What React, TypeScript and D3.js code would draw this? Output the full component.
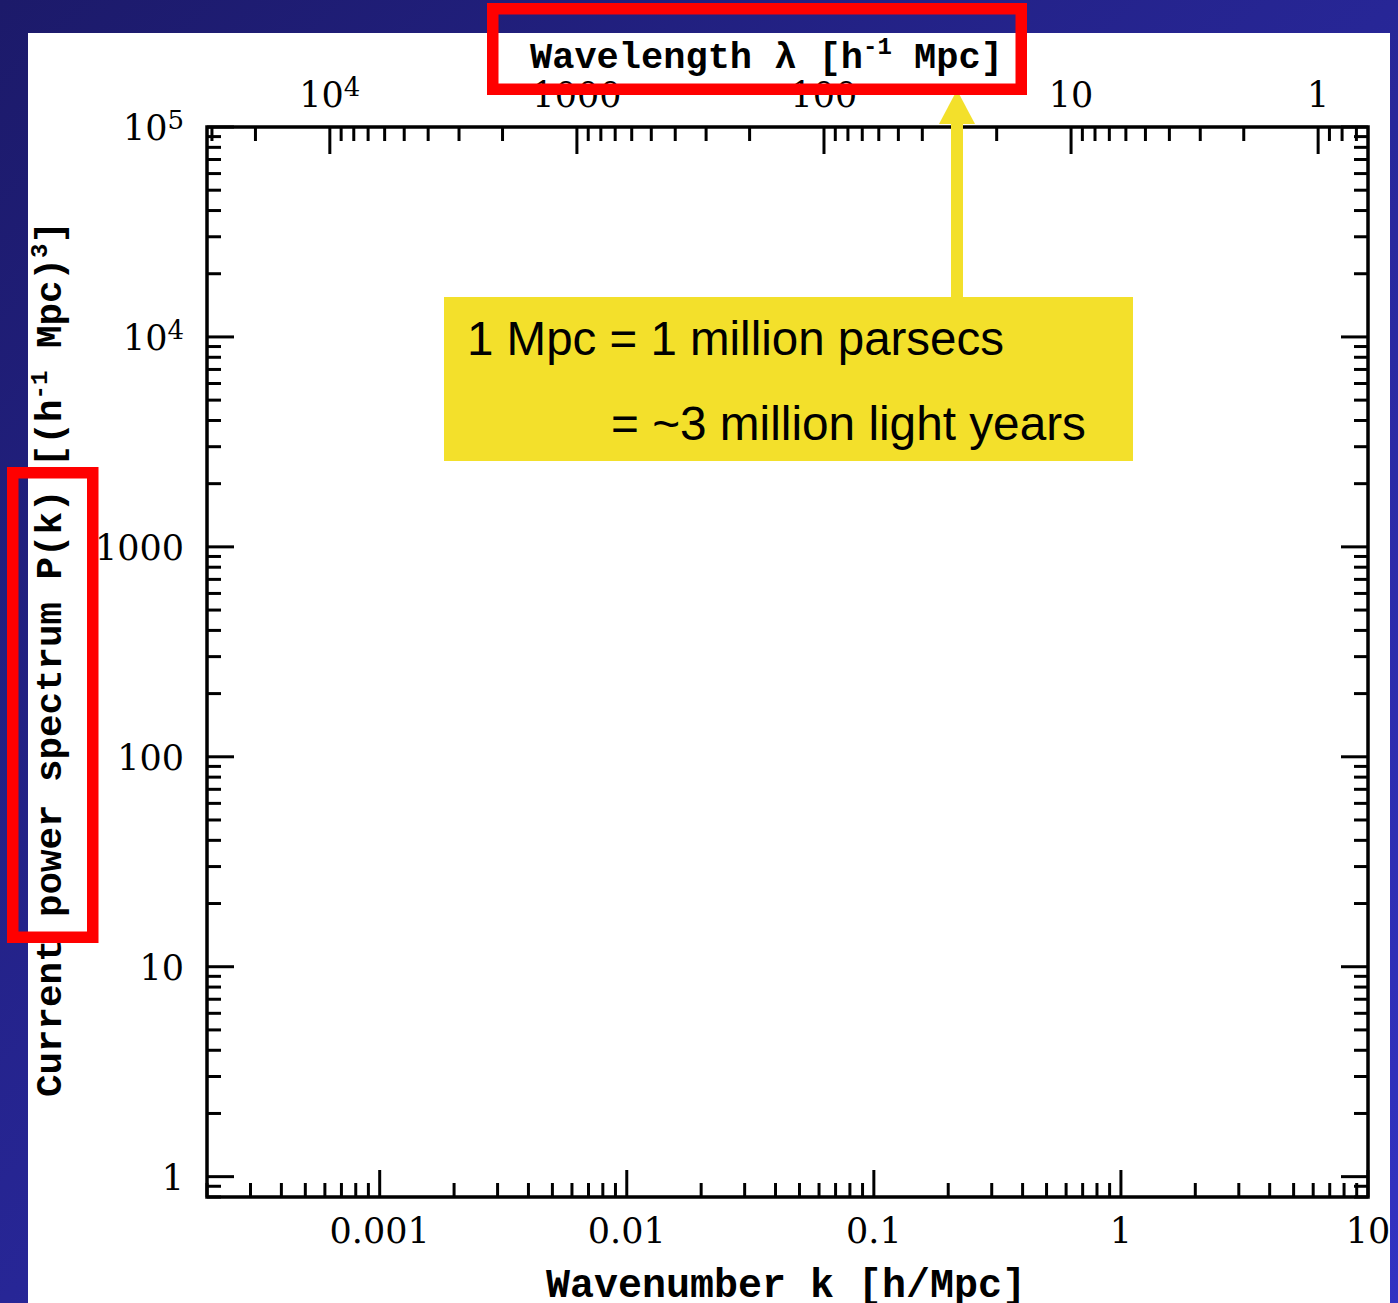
import React from "react";
import * as d3 from "d3";

// Axis ranges
const K_DOMAIN: [number, number] = [2e-4, 10]; // wavenumber k [h/Mpc]
const P_DOMAIN: [number, number] = [0.8, 1e5]; // power spectrum P(k)

// Labelled ticks
const kMajor = [0.001, 0.01, 0.1, 1, 10];
const kMajorLabels = ["0.001", "0.01", "0.1", "1", "10"];

const lambdaMajor = [1e4, 1000, 100, 10, 1];
const lambdaLabelBase = ["10", "1000", "100", "10", "1"];
const lambdaLabelExp = ["4", "", "", "", ""];

const pMajor = [1, 10, 100, 1000, 1e4, 1e5];
const pLabelBase = ["1", "10", "100", "1000", "10", "10"];
const pLabelExp = ["", "", "", "", "4", "5"];

// Annotation text
const noteLines = ["1 Mpc = 1 million parsecs", "= ~3 million light years"];

const W = 1398;
const H = 1303;
const frame = { left: 207, right: 1368, top: 127, bottom: 1197 };
const MAJOR_LEN = 27;
const MINOR_LEN = 14;
const TICK_W = 3;

const isDecade = (v: number) => Math.abs(Math.log10(v) - Math.round(Math.log10(v))) < 1e-9;

export default function App() {
  const x = d3.scaleLog().domain(K_DOMAIN).range([frame.left, frame.right]);
  const y = d3.scaleLog().domain(P_DOMAIN).range([frame.bottom, frame.top]);
  // wavelength lambda = 2*pi / k, decreasing to the right
  const lam = d3
    .scaleLog()
    .domain([(2 * Math.PI) / K_DOMAIN[0], (2 * Math.PI) / K_DOMAIN[1]])
    .range([frame.left, frame.right]);

  const kTicks = x.ticks();
  const lTicks = lam.ticks();
  const pTicks = y.ticks();

  const serif = "'DejaVu Serif', serif";
  const mono = "'Liberation Mono', 'Courier New', monospace";
  const sans = "'Liberation Sans', Arial, sans-serif";

  return (
    <svg
      width={W}
      height={H}
      style={{ position: "absolute", left: 0, top: 0, display: "block" }}
    >
      <defs>
        <linearGradient id="bg" x1="0" y1="0" x2="1" y2="1">
          <stop offset="0" stopColor="#1c1a6a" />
          <stop offset="1" stopColor="#3232c2" />
        </linearGradient>
        <clipPath id="panel">
          <rect x={28} y={33} width={1362} height={H - 33} />
        </clipPath>
      </defs>
      <rect x={0} y={0} width={W} height={H} fill="url(#bg)" />

      <g clipPath="url(#panel)">
        <rect x={28} y={33} width={1362} height={H - 33} fill="#ffffff" />

        {/* bottom axis: wavenumber */}
        {kTicks.map((t, i) => {
          const len = isDecade(t) ? MAJOR_LEN : MINOR_LEN;
          return (
            <line
              key={"kb" + i}
              x1={x(t)}
              x2={x(t)}
              y1={frame.bottom}
              y2={frame.bottom - len}
              stroke="#000"
              strokeWidth={TICK_W}
            />
          );
        })}
        {kMajor.map((t, i) => (
          <text
            key={"kl" + i}
            x={x(t)}
            y={1243}
            textAnchor="middle"
            fontFamily={serif}
            fontSize={35}
            fill="#000"
          >
            {kMajorLabels[i]}
          </text>
        ))}

        {/* top axis: wavelength */}
        {lTicks.map((t, i) => {
          const len = isDecade(t) ? MAJOR_LEN : MINOR_LEN;
          return (
            <line
              key={"lt" + i}
              x1={lam(t)}
              x2={lam(t)}
              y1={frame.top}
              y2={frame.top + len}
              stroke="#000"
              strokeWidth={TICK_W}
            />
          );
        })}
        {lambdaMajor.map((t, i) => (
          <text
            key={"ll" + i}
            x={lam(t)}
            y={107}
            textAnchor="middle"
            fontFamily={serif}
            fontSize={35}
            fill="#000"
          >
            {lambdaLabelBase[i]}
            {lambdaLabelExp[i] && (
              <tspan fontSize={26} dy={-11}>
                {lambdaLabelExp[i]}
              </tspan>
            )}
          </text>
        ))}

        {/* left and right axes: P(k) */}
        {pTicks.map((t, i) => {
          const len = isDecade(t) ? MAJOR_LEN : MINOR_LEN;
          return (
            <g key={"p" + i}>
              <line
                x1={frame.left}
                x2={frame.left + len}
                y1={y(t)}
                y2={y(t)}
                stroke="#000"
                strokeWidth={TICK_W}
              />
              <line
                x1={frame.right}
                x2={frame.right - len}
                y1={y(t)}
                y2={y(t)}
                stroke="#000"
                strokeWidth={TICK_W}
              />
            </g>
          );
        })}
        {pMajor.map((t, i) => (
          <text
            key={"pl" + i}
            x={184}
            y={y(t) + 13}
            textAnchor="end"
            fontFamily={serif}
            fontSize={35}
            fill="#000"
          >
            {pLabelBase[i]}
            {pLabelExp[i] && (
              <tspan fontSize={26} dy={-11}>
                {pLabelExp[i]}
              </tspan>
            )}
          </text>
        ))}

        {/* frame */}
        <rect
          x={frame.left}
          y={frame.top}
          width={frame.right - frame.left}
          height={frame.bottom - frame.top}
          fill="none"
          stroke="#000"
          strokeWidth={3.5}
        />

        {/* axis titles */}
        <text x={530} y={68} fontFamily={mono} fontWeight="bold" fontSize={37} fill="#000">
          Wavelength λ [h
          <tspan fontSize={24} dy={-14}>
            -1
          </tspan>
          <tspan dy={14}> Mpc]</tspan>
        </text>
        <text x={546} y={1297} fontFamily={mono} fontWeight="bold" fontSize={40} fill="#000">
          Wavenumber k [h/Mpc]
        </text>
        <text
          transform="translate(61,1097) rotate(-90)"
          fontFamily={mono}
          fontWeight="bold"
          fontSize={37.5}
          fill="#000"
        >
          Current power spectrum P(k) [(h
          <tspan fontSize={24} dy={-14}>
            -1
          </tspan>
          <tspan dy={14}> Mpc)</tspan>
          <tspan fontSize={24} dy={-14}>
            3
          </tspan>
          <tspan dy={14}>]</tspan>
        </text>
      </g>

      {/* annotation box with arrow pointing at the wavelength axis */}
      <rect x={444} y={297} width={689} height={164} fill="#f3e02b" />
      <rect x={951} y={122} width={12} height={176} fill="#f3e02b" />
      <polygon points="957,90 939,124 975,124" fill="#f3e02b" />
      <text
        x={467}
        y={355}
        fontFamily={sans}
        fontSize={47.5}
        textLength={537}
        lengthAdjust="spacingAndGlyphs"
        fill="#000"
      >
        {noteLines[0]}
      </text>
      <text
        x={611}
        y={440}
        fontFamily={sans}
        fontSize={47.5}
        textLength={475}
        lengthAdjust="spacingAndGlyphs"
        fill="#000"
      >
        {noteLines[1]}
      </text>

      {/* highlight boxes */}
      <rect x={492.75} y={8.75} width={528.5} height={80.5} fill="none" stroke="#ff0000" strokeWidth={11.5} />
      <rect x={12.75} y={472.75} width={80} height={464.5} fill="none" stroke="#ff0000" strokeWidth={11.5} />
    </svg>
  );
}
